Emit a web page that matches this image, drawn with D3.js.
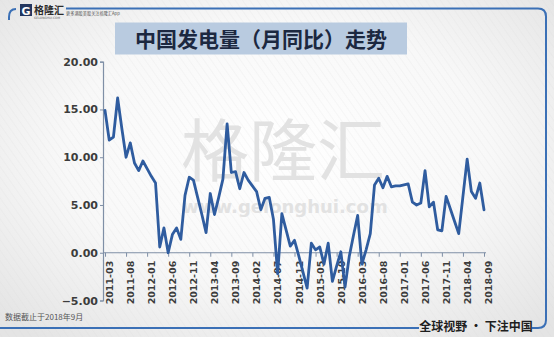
<!DOCTYPE html>
<html>
<head>
<meta charset="utf-8">
<script src="https://cdn.jsdelivr.net/npm/d3@7"></script>
<style>
  body { margin: 0; padding: 0; background: #fff; }
</style>
</head>
<body>
<script>
// monthly categories, 2011-03 .. 2018-09
var startMonth = new Date(2011, 2, 1);
var endMonth = new Date(2018, 8, 1);
var fmt = d3.timeFormat("%Y-%m");
var months = d3.timeMonth.range(startMonth, d3.timeMonth.offset(endMonth, 1)).map(fmt);

// year-on-year growth of power generation (%)
var growth = [
  14.9, 11.8, 12.1, 16.2, 13.0, 10.0, 11.5, 9.4, 8.6, 9.6,
  8.8, 8.0, 7.3, 0.6, 2.6, 0.0, 1.9, 2.6, 1.4, 6.0,
  7.9, 7.6, 5.8, 4.0, 2.1, 6.2, 4.0, 5.8, 7.7, 13.5,
  8.4, 8.5, 6.7, 8.4, 7.6, 7.0, 6.4, 4.5, 5.7, 5.8,
  3.5, -2.2, 4.1, 2.4, 0.7, 1.3, -0.3, -2.0, -3.7, 1.0,
  0.3, 0.6, -1.2, 1.0, -3.0, -1.4, 0.1, -3.6, -0.4, 1.8,
  3.9, -1.2, 0.3, 2.0, 7.1, 7.8, 6.8, 8.0, 6.9, 7.0,
  7.0, 7.1, 7.2, 5.3, 5.0, 5.2, 8.6, 4.8, 5.3, 2.4,
  2.3, 5.9, 4.6, 3.3, 2.0, 5.9, 9.8, 6.4, 5.7, 7.3,
  4.5
];

var xTickLabels = ["2011-03","2011-08","2012-01","2012-06","2012-11","2013-04","2013-09",
  "2014-02","2014-07","2014-12","2015-05","2015-10","2016-03","2016-08","2017-01",
  "2017-06","2017-11","2018-04","2018-09"];
var yTicks = [-5, 0, 5, 10, 15, 20];

var title = "中国发电量（月同比）走势";
var note = "数据截止于2018年9月";
var slogan = "全球视野 • 下注中国";

var W = 554, H = 337;
var svg = d3.select("body").append("svg")
    .attr("width", W)
    .attr("height", H);

var defs = svg.append("defs");
var bg = defs.append("radialGradient").attr("id", "bg")
    .attr("cx", "50%").attr("cy", "45%").attr("r", "70%");
bg.append("stop").attr("offset", "0%").attr("stop-color", "#ffffff");
bg.append("stop").attr("offset", "55%").attr("stop-color", "#f8f8f8");
bg.append("stop").attr("offset", "100%").attr("stop-color", "#e4e4e4");

var stripes = defs.append("pattern").attr("id", "stripes")
    .attr("width", 6).attr("height", 6)
    .attr("patternUnits", "userSpaceOnUse")
    .attr("patternTransform", "rotate(-35)");
stripes.append("line")
    .attr("x1", 0).attr("y1", 0).attr("x2", 0).attr("y2", 6)
    .attr("stroke", "#d8d8d8").attr("stroke-width", 1).attr("opacity", 0.35);

svg.append("rect").attr("width", W).attr("height", H).attr("fill", "url(#bg)");
svg.append("rect").attr("width", W).attr("height", H).attr("fill", "url(#stripes)");

// frame
var frameColor = "#3b70b6";
svg.append("path")
    .attr("d", "M66,8.5 L538,8.5 Q546,8.5 546,16.5 L546,320 Q546,328 538,328 L532,328")
    .attr("fill", "none").attr("stroke", frameColor).attr("stroke-width", 2);
svg.append("path")
    .attr("d", "M0,328 L419,328")
    .attr("fill", "none").attr("stroke", frameColor).attr("stroke-width", 2);
svg.append("path")
    .attr("d", "M16,9 Q9,9 9,17 L9,20")
    .attr("fill", "none").attr("stroke", frameColor).attr("stroke-width", 2);

// logo
svg.append("rect").attr("x", 20).attr("y", 4).attr("width", 12).attr("height", 12)
    .attr("fill", "#23365e");
svg.append("text").attr("x", 26).attr("y", 14.5)
    .attr("text-anchor", "middle")
    .style("font-family", "DejaVu Sans").style("font-weight", "bold")
    .style("font-size", "11px").style("fill", "#ffffff")
    .text("G");
svg.append("text").attr("x", 34).attr("y", 14)
    .style("font-family", "Noto Sans CJK SC").style("font-weight", "bold")
    .style("font-size", "10px").style("fill", "#2b2b2b")
    .text("格隆汇");
svg.append("text").attr("x", 34).attr("y", 19)
    .style("font-family", "DejaVu Sans")
    .style("font-size", "3px").style("fill", "#666")
    .text("GELONGHUI.COM");
svg.append("text").attr("x", 66).attr("y", 15)
    .style("font-family", "Noto Sans CJK SC")
    .style("font-size", "4.2px").style("fill", "#555")
    .text("更多港股美股关注格隆汇App");

// title box
svg.append("rect").attr("x", 115).attr("y", 22.5).attr("width", 292).attr("height", 32)
    .attr("fill", "#b9cbe0");
svg.append("text").attr("x", 261).attr("y", 46.5)
    .attr("text-anchor", "middle")
    .style("font-family", "Noto Sans CJK SC").style("font-weight", "bold")
    .style("font-size", "21px").style("fill", "#1c2840")
    .text(title);

// watermark
svg.append("text").attr("x", 283).attr("y", 176)
    .attr("text-anchor", "middle")
    .style("font-family", "Noto Sans CJK SC")
    .style("font-size", "68px").style("fill", "#e2e2e2")
    .text("格隆汇");
svg.append("text").attr("x", 285).attr("y", 213)
    .attr("text-anchor", "middle")
    .style("font-family", "DejaVu Sans").style("font-weight", "bold")
    .style("font-size", "18px").style("fill", "#e2e2e2")
    .text("www.gelonghui.com");

// scales
var x = d3.scalePoint().domain(months).range([105, 484]);
var y = d3.scaleLinear().domain([-5, 20]).range([300.5, 61.7]);

var axisColor = "#7f8fa6";
var labelColor = "#3c3c3c";

var yAxis = svg.append("g")
    .attr("transform", "translate(103,0)")
    .call(d3.axisLeft(y).tickValues(yTicks).tickFormat(d3.format(".2f"))
        .tickSize(3).tickPadding(2));
yAxis.select(".domain").attr("stroke", axisColor).attr("stroke-width", 1.2);
yAxis.selectAll(".tick line").attr("stroke", axisColor);
yAxis.selectAll("text")
    .style("font-family", "DejaVu Sans").style("font-weight", "bold")
    .style("font-size", "11px").style("fill", labelColor);

var xAxis = svg.append("g")
    .attr("transform", "translate(0," + y(0) + ")")
    .call(d3.axisBottom(x).tickValues(xTickLabels).tickSize(4).tickSizeOuter(0));
xAxis.select(".domain").attr("stroke", axisColor).attr("stroke-width", 1.2)
    .attr("d", "M103,0H486");
xAxis.selectAll(".tick line").attr("stroke", axisColor);
xAxis.selectAll("text")
    .attr("transform", "rotate(-90)")
    .attr("text-anchor", "end")
    .attr("x", -8)
    .attr("y", 7.5)
    .attr("dy", 0)
    .style("font-family", "DejaVu Sans").style("font-weight", "bold")
    .style("font-size", "9.5px").style("fill", labelColor);

// series
var line = d3.line()
    .x(function(d, i) { return x(months[i]); })
    .y(function(d) { return y(d); });

svg.append("path")
    .datum(growth)
    .attr("d", line)
    .attr("fill", "none")
    .attr("stroke", "#2f5c9f")
    .attr("stroke-width", 2.8)
    .attr("stroke-linejoin", "round")
    .attr("stroke-linecap", "round");

// footer
svg.append("text").attr("x", 5).attr("y", 320)
    .style("font-family", "Noto Sans CJK SC")
    .style("font-size", "8px").style("fill", "#555")
    .text(note);
svg.append("text").attr("x", 476).attr("y", 331)
    .attr("text-anchor", "middle")
    .style("font-family", "Noto Sans CJK SC").style("font-weight", "bold")
    .style("font-size", "12px").style("fill", "#1e1e1e")
    .text(slogan);
</script>
</body>
</html>
